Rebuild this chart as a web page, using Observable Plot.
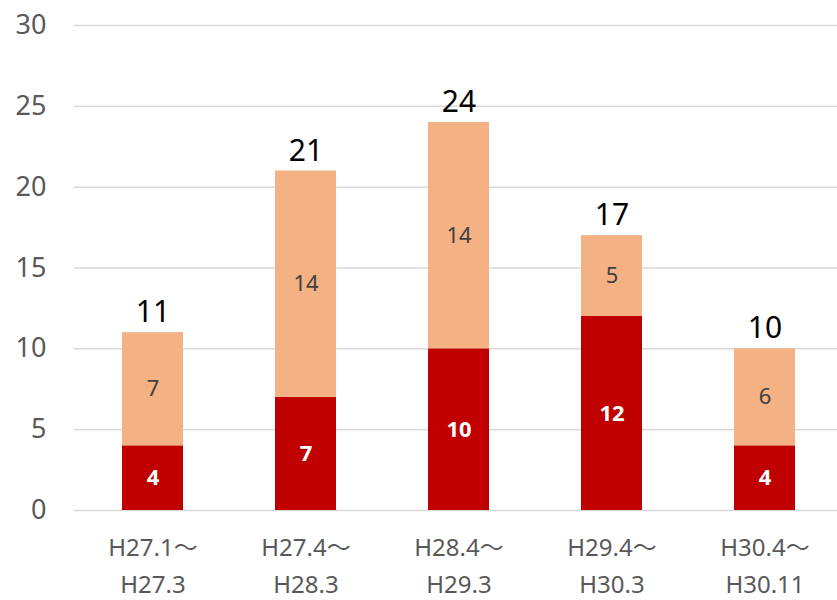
<!DOCTYPE html>
<html><head><meta charset="utf-8">
<script src="https://cdn.jsdelivr.net/npm/d3@7"></script>
<script src="https://cdn.jsdelivr.net/npm/@observablehq/plot@0.6"></script>
<style>
body{margin:0;background:#fff;}
#chart{width:837px;height:600px;overflow:hidden;}
</style>
</head><body><div id="chart"></div>
<script>
const periodStart = ["H27.1～","H27.4～","H28.4～","H29.4～","H30.4～"];
const periodEnd = ["H27.3","H28.3","H29.3","H30.3","H30.11"];
const lowerValues = [4,7,10,12,4];
const upperValues = [7,14,14,5,6];
const yTicks = [0,5,10,15,20,25,30];

const categories = periodStart.map((s,i)=>s+"\n"+periodEnd[i]);
const rows = [];
categories.forEach((c,i)=>{
  rows.push({cat:c, series:"lower", value:lowerValues[i]});
  rows.push({cat:c, series:"upper", value:upperValues[i]});
});
const totals = categories.map((c,i)=>({cat:c, total:lowerValues[i]+upperValues[i]}));
const font = "'Noto Sans','Noto Sans CJK JP',sans-serif";
const stackOpts = {x:"cat", y:"value", z:"series", order:["lower","upper"]};

const chart = Plot.plot({
  width:837, height:600,
  marginLeft:74, marginRight:0, marginTop:25, marginBottom:90,
  style:{fontFamily:font, background:"#fff"},
  x:{domain:categories, range:[74,843], paddingInner:0.6, paddingOuter:0.3, label:null},
  y:{domain:[0,30], label:null},
  color:{domain:["lower","upper"], range:["#C00000","#F4B183"]},
  marks:[
    Plot.ruleY(yTicks,{stroke:"#d9d9d9", strokeWidth:1.5}),
    Plot.axisY({ticks:yTicks, tickSize:0, tickPadding:28, fontSize:27, fill:"#595959", label:null}),
    Plot.axisX({tickSize:0, tickPadding:19, fontSize:24, fill:"#595959", lineHeight:1.55, label:null}),
    Plot.barY(rows, {...stackOpts, fill:"series"}),
    Plot.text(rows, Plot.stackY({...stackOpts, text:d=>d.series==="lower"?String(d.value):"",
      fill:"#ffffff", fontWeight:"bold", fontSize:22})),
    Plot.text(rows, Plot.stackY({...stackOpts, text:d=>d.series==="upper"?String(d.value):"",
      fill:"#404040", fontSize:22})),
    Plot.text(totals, {x:"cat", y:"total", text:"total", dy:-20, fontSize:30, fill:"#000"})
  ]
});
document.getElementById("chart").appendChild(chart);
</script>
</body></html>
